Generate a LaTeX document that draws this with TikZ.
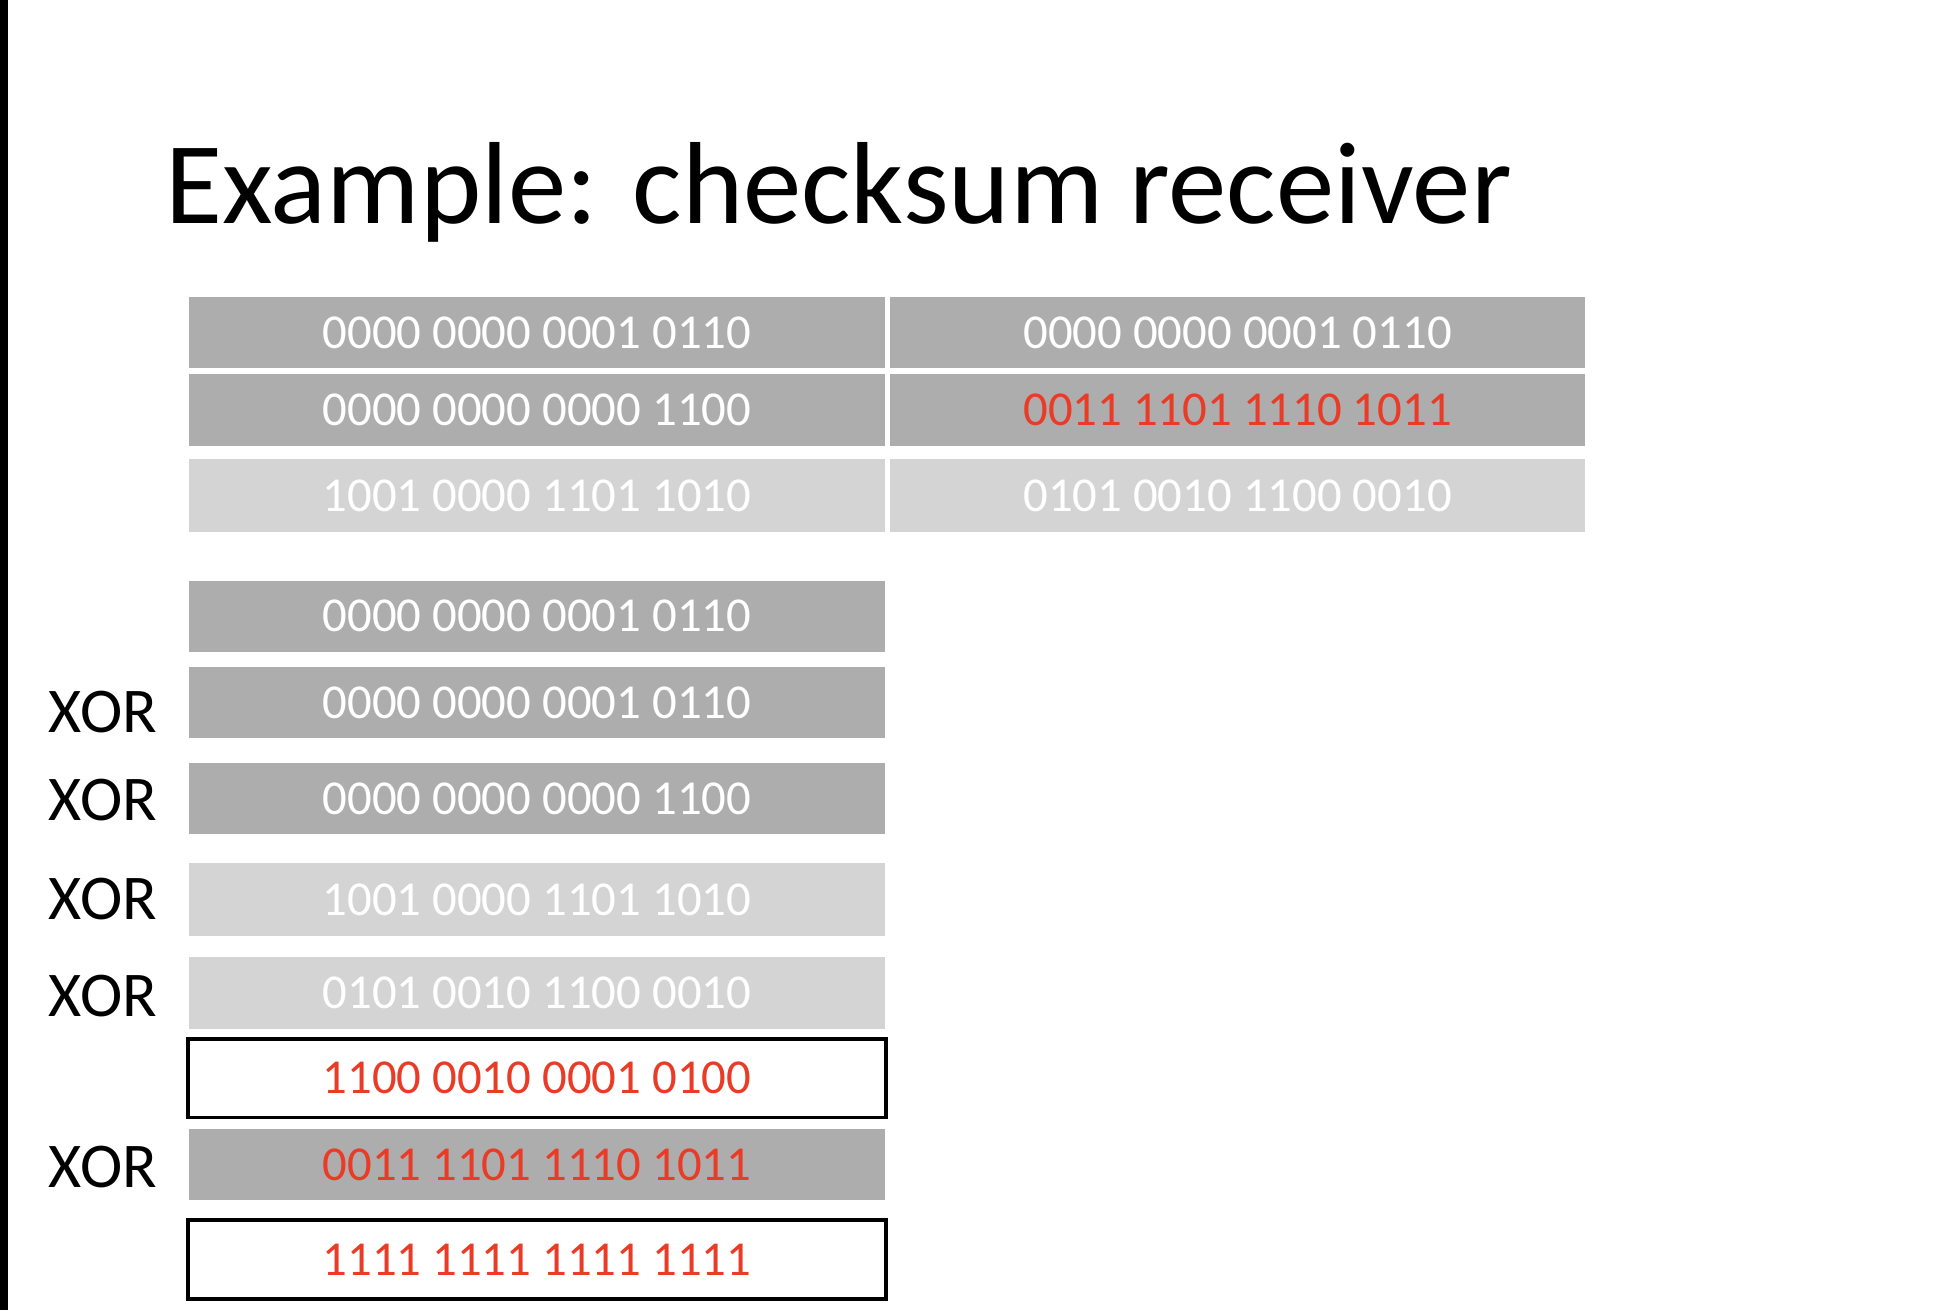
\documentclass[tikz,border=0pt]{standalone}
\usepackage{fontspec}
\newfontfamily\carlito{Carlito}
\definecolor{dgray}{RGB}{173,173,173}
\definecolor{lgray}{RGB}{212,212,212}
\definecolor{redtxt}{RGB}{233,59,38}
\begin{document}
\begin{tikzpicture}[x=0.5pt,y=-0.5pt,
  cell/.style={rectangle, inner sep=0pt, outer sep=0pt, minimum width=278.5pt, minimum height=28.5pt, text=white, font=\carlito\fontsize{19.5}{22}\selectfont},
  darkcell/.style={cell, fill=dgray},
  lightcell/.style={cell, fill=lgray},
  resultcell/.style={cell, fill=white, draw=black, line width=1.5pt, minimum width=279pt, minimum height=31.5pt, text=redtxt},
  xorlabel/.style={anchor=east, inner sep=0pt, font=\carlito\fontsize{25.5}{28}\selectfont},
  titletext/.style={anchor=base west, inner sep=0pt, font=\carlito\fontsize{46.7}{52}\selectfont}]
\useasboundingbox (0,0) rectangle (1561.6,1048);
\fill[black] (0,0) rectangle (6,1048);
\node[titletext] (title) at (132,179) {Example: checksum receiver};
% top table
\node[darkcell] (t11) at (429.5,266) {0000 0000 0001 0110};
\node[darkcell] (t21) at (429.5,328) {0000 0000 0000 1100};
\node[lightcell, minimum height=29pt] (t31) at (429.5,396.5) {1001 0000 1101 1010};
\node[darkcell, minimum width=278pt] (t12) at (990,266) {0000 0000 0001 0110};
\node[darkcell, minimum width=278pt, text=redtxt] (t22) at (990,328) {0011 1101 1110 1011};
\node[lightcell, minimum width=278pt, minimum height=29pt] (t32) at (990,396.5) {0101 0010 1100 0010};
% lower column
\node[darkcell] (rA) at (429.5,493) {0000 0000 0001 0110};
\node[darkcell] (rB) at (429.5,562) {0000 0000 0001 0110};
\node[darkcell] (rC) at (429.5,639) {0000 0000 0000 1100};
\node[lightcell, minimum height=29pt] (rD) at (429.5,719.5) {1001 0000 1101 1010};
\node[lightcell, minimum height=29pt] (rE) at (429.5,794.5) {0101 0010 1100 0010};
\node[resultcell] (rF) at (429.5,862.5) {1100 0010 0001 0100};
\node[darkcell, text=redtxt] (rG) at (429.5,931.5) {0011 1101 1110 1011};
\node[resultcell] (rH) at (429.5,1007.5) {1111 1111 1111 1111};
% XOR labels
\node[xorlabel] (xB) at (126,570) {XOR};
\node[xorlabel] (xC) at (126,640) {XOR};
\node[xorlabel] (xD) at (126,719) {XOR};
\node[xorlabel] (xE) at (126,797) {XOR};
\node[xorlabel] (xG) at (126,934) {XOR};
\end{tikzpicture}
\end{document}
